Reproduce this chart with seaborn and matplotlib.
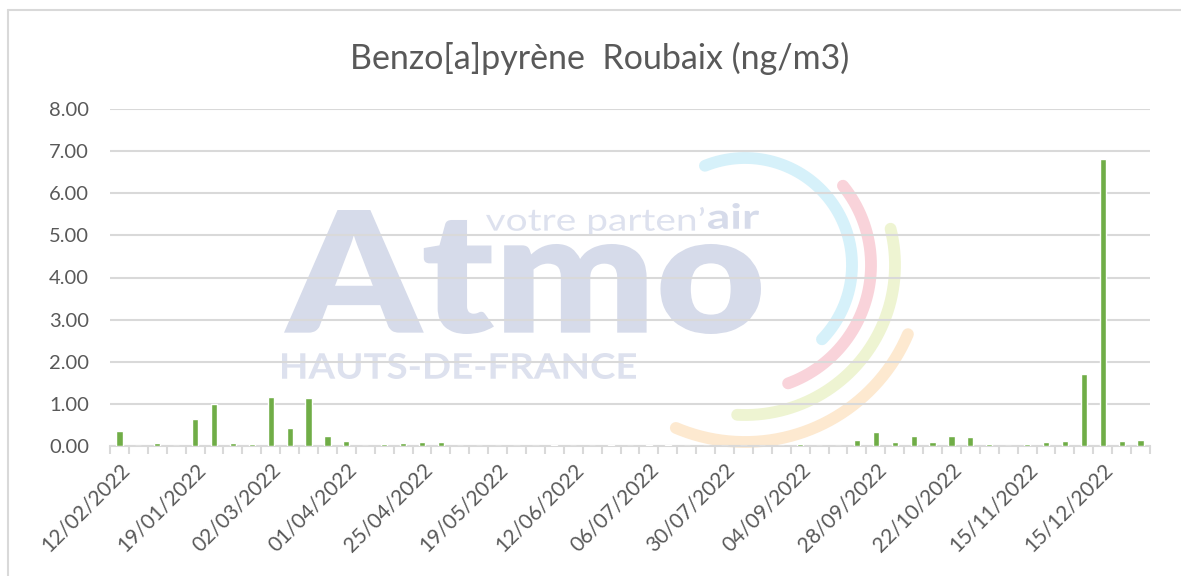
import numpy as np
import pandas as pd
import matplotlib
matplotlib.use("Agg")
import matplotlib.pyplot as plt
import seaborn as sns
from matplotlib.textpath import TextPath
from matplotlib.font_manager import FontProperties
from matplotlib.patches import PathPatch
from matplotlib.transforms import Affine2D

# ---------------- data ----------------
values = [0.36, 0.00, 0.08, 0.00, 0.63, 1.00, 0.08, 0.05, 1.16, 0.42,
          1.13, 0.23, 0.11, 0.00, 0.04, 0.07, 0.10, 0.10, 0.00, 0.00,
          0.00, 0.00, 0.00, 0.03, 0.00, 0.00, 0.03, 0.00, 0.03, 0.03,
          0.00, 0.00, 0.00, 0.00, 0.00, 0.00, 0.05, 0.00, 0.00, 0.15,
          0.34, 0.09, 0.24, 0.09, 0.24, 0.21, 0.05, 0.00, 0.04, 0.09,
          0.12, 1.70, 6.82, 0.11, 0.14]
samples = list(range(len(values)))
tick_labels = ["12/02/2022", "19/01/2022", "02/03/2022", "01/04/2022",
               "25/04/2022", "19/05/2022", "12/06/2022", "06/07/2022",
               "30/07/2022", "04/09/2022", "28/09/2022", "22/10/2022",
               "15/11/2022", "15/12/2022"]
label_step = 4
title = "Benzo[a]pyrène  Roubaix (ng/m3)"

# ---------------- style ----------------
sns.set_theme(style="white")
plt.rcParams['font.family'] = ['Lato', 'DejaVu Sans']
TXT = "#595959"
GRID = "#d9d9d9"
BAR = "#70ad47"

W, H = 1181, 576
fig = plt.figure(figsize=(W / 100, H / 100), dpi=100)

# ---------------- watermark (background) ----------------
wm = fig.add_axes([0, 0, 1, 1], zorder=0)
wm.set_xlim(0, W)
wm.set_ylim(H, 0)
wm.axis("off")

def fit_text(s, box, weight, color):
    tp = TextPath((0, 0), s, size=100,
                  prop=FontProperties(family="Lato", weight=weight))
    bb = tp.get_extents()
    x0, y0, x1, y1 = box
    sx = (x1 - x0) / bb.width
    sy = (y1 - y0) / bb.height
    tr = Affine2D().translate(-bb.x0, -bb.y1).scale(sx, -sy).translate(x0, y0)
    wm.add_patch(PathPatch(tr.transform_path(tp), fc=color, ec="none"))

fit_text("Atmo", (284, 210, 761, 334), "heavy", "#d6dbea")
fit_text("HAUTS-DE-FRANCE", (282, 353, 636, 379), "bold", "#dde1ee")
fit_text("votre parten\u2019", (486, 207, 704, 236), "normal", "#dde1ee")
fit_text("air", (708, 203, 759, 229), "bold", "#d6dbea")

cx, cy = 745, 265
arcs = [(107, 112, -44, "#d6f1fa"),
        (126, 39, -70, "#f9d3da"),
        (150, 14, -93, "#eef4d2"),
        (177, -23, -113, "#fde9d0")]
for r, a1, a2, col in arcs:
    th = np.radians(np.linspace(a1, a2, 200))
    wm.plot(cx + r * np.cos(th), cy - r * np.sin(th), color=col, lw=8.5,
            solid_capstyle="round")

# outer chart frame (partly cropped)
wm.plot([8, 8], [10, H], color=GRID, lw=1.5)
wm.plot([8, W], [10, 10], color=GRID, lw=1.5)

# ---------------- main chart ----------------
ax = fig.add_axes([110 / W, 1 - 446 / H, (1150 - 110) / W, (446 - 109) / H],
                  zorder=1)
ax.patch.set_alpha(0)

df = pd.DataFrame({"sample": samples, "value": values})
sns.barplot(data=df, x="sample", y="value", color=BAR, saturation=1,
            width=0.33, ax=ax, zorder=3)

ax.set_xlim(-0.5, len(values) - 0.5)
ax.set_ylim(0, 8)
ax.set_yticks(np.arange(0, 9, 1))
ax.set_yticklabels([f"{v:.2f}" for v in np.arange(0, 9, 1)],
                   fontsize=14.5, color=TXT)
ax.yaxis.grid(True, color=GRID, lw=1.5)
ax.set_axisbelow(True)

ax.set_xticks(samples[::label_step])
ax.set_xticklabels(tick_labels, rotation=45, ha="right",
                   rotation_mode="anchor", fontsize=15, color=TXT)
ax.set_xticks(np.arange(-0.5, len(values), 1), minor=True)
ax.tick_params(axis="x", which="major", length=0, pad=10)
ax.tick_params(axis="x", which="minor", length=6, width=1.5, color=GRID,
               direction="out", bottom=True)
ax.tick_params(axis="y", length=0, pad=15)

for s in ["top", "right", "left"]:
    ax.spines[s].set_visible(False)
ax.spines["bottom"].set_color(GRID)
ax.spines["bottom"].set_linewidth(1.5)
ax.set_xlabel("")
ax.set_ylabel("")

fig.text(600 / W, 1 - 58 / H, title, ha="center", va="center",
         fontsize=24.5, color=TXT)

fig.savefig("out.png", dpi=100)
